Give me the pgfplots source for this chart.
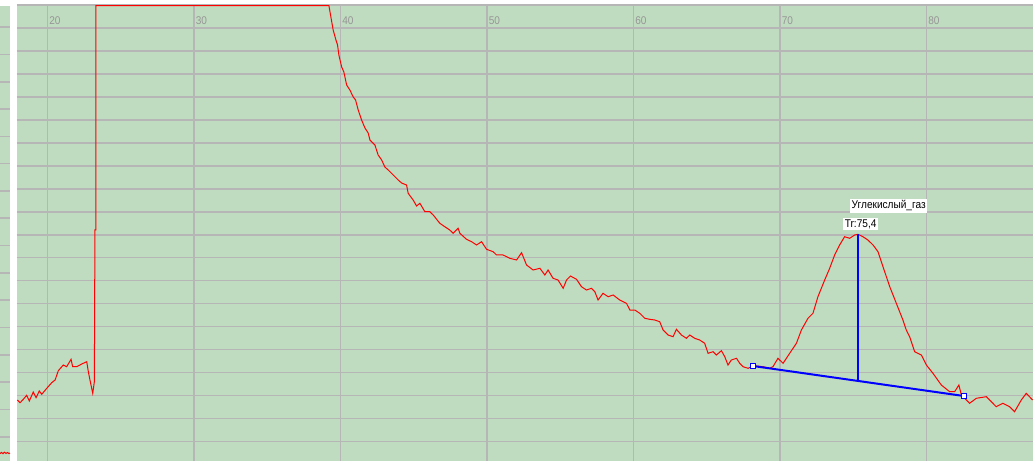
\documentclass[border=0pt]{standalone}
\usepackage{pgfplots}
\pgfplotsset{compat=1.18}
\usepackage{fontspec}
\setmainfont{Liberation Sans}
\newfontfamily\labelfont[FakeStretch=0.9]{Liberation Sans}
\definecolor{bg}{RGB}{192,220,192}
\definecolor{gridc}{RGB}{182,182,182}
\definecolor{tickc}{RGB}{150,150,150}
\begin{document}
\begin{tikzpicture}
\fill[white] (0pt,0pt) rectangle (516.5pt,230.5pt);
% left strip
\begin{axis}[at={(0pt,0pt)}, anchor=south west, scale only axis,
  width=5pt, height=227.5pt, xmin=0, xmax=10, ymin=0, ymax=455,
  axis background/.style={fill=bg}, axis line style={draw=none},
  xtick=\empty, ytick={24.3,51.6,...,440}, yticklabels={},
  ymajorgrids, major grid style={gridc, line width=0.8pt}, major tick length=0pt]
\addplot[red, line width=0.5pt] coordinates {(0,7.5) (1.5,8.6) (3,7.3) (4.5,8.8) (6,7.6) (7.5,8.5) (9,7.4) (10,8)};
\end{axis}
% main chromatogram
\begin{axis}[at={(8.5pt,0pt)}, anchor=south west, scale only axis,
  width=508pt, height=227.875pt,
  xmin=17.93, xmax=87.28, ymin=0, ymax=455.75,
  axis background/.style={fill=bg}, axis line style={draw=none},
  xtick={20,30,...,80}, ytick={19.7,42.65,...,456}, yticklabels={},
  xmajorgrids, ymajorgrids, major grid style={gridc, line width=0.8pt},
  major tick length=0pt, xticklabel pos=right,
  /pgf/number format/assume math mode=true,
  xticklabel style={anchor=north west, inner sep=0pt, xshift=0.8pt, yshift=-5.4pt,
    font=\labelfont\fontsize{5.6}{6}\selectfont, text=tickc},
  clip=true]
\addplot[red, line width=0.5pt] coordinates {
(17.95,61) (18.14,58.3) (18.36,61.7) (18.59,65.7) (18.77,60) (19.04,69) (19.23,63.3)
(19.45,70) (19.62,66.7) (19.96,72.7) (20.30,78.3) (20.53,81) (20.75,90.3) (21.09,96)
(21.32,94.3) (21.62,101.7) (21.73,94.3) (22.01,94.3) (22.35,97) (22.69,99.3) (22.80,89.3)
(22.91,81) (23.10,67.7) (23.21,79.3) (23.25,231) (23.32,231) (23.32,455.4)
(39.22,455.4)
(39.51,431) (39.70,421) (39.81,416) (39.90,406) (40.09,394) (40.24,389) (40.43,376)
(40.65,371) (40.88,364) (41.04,361) (41.22,351) (41.45,341) (41.68,333) (41.90,328)
(42.02,321) (42.36,316) (42.58,306) (42.82,301) (43.04,294) (43.27,291) (43.61,286)
(43.95,281) (44.18,278) (44.52,276) (44.63,267.7) (44.97,261) (45.20,255) (45.43,257.7)
(45.77,249.3) (46.11,249.3) (46.34,246) (46.79,237.7) (47.13,234.3) (47.47,231) (47.70,227.7)
(48.04,232.7) (48.16,227.7) (48.61,221.7) (48.96,219.3) (49.30,216) (49.64,219.3) (49.98,211.7)
(50.43,209.3) (50.66,206) (51.11,206) (51.57,202.7) (52.03,201) (52.37,208.3) (52.71,196)
(53.16,191) (53.62,192.7) (53.96,186) (54.18,191) (54.52,182.7) (54.86,181) (55.21,172.7)
(55.44,181) (55.71,185) (56.12,181.7) (56.46,174.3) (56.80,171) (57.14,172.7) (57.37,169.3)
(57.59,161) (57.93,167.7) (58.28,164.3) (58.62,166) (59.07,161) (59.53,157.7) (59.76,151)
(60.10,151) (60.44,147.7) (60.78,142.7) (61.12,141.7) (61.46,141) (61.80,139.3) (62.03,131)
(62.37,126) (62.71,124.3) (62.94,131.7) (63.28,126) (63.62,122.7) (63.85,126) (64.19,122.7)
(64.53,121) (64.87,117.7) (65.10,107.7) (65.44,109.3) (65.67,106) (66.01,110.3) (66.24,104.3)
(66.46,96) (66.69,101) (67.04,102.7) (67.26,97.7) (67.49,94.3) (67.83,92.7) (68.06,94.3)
(68.40,95) (68.85,94.3) (69.31,92.7) (69.53,94.3) (69.87,102.7) (70.22,97.7) (70.67,107.7)
(71.13,117.7) (71.47,131) (71.92,142.7) (72.26,147.7) (72.60,164.3) (73.06,181) (73.40,192.7)
(73.74,206) (74.08,216) (74.42,224.3) (74.77,222.7) (75.11,226) (75.33,226.7) (75.67,224.3)
(76.01,221) (76.36,216) (76.70,209.3) (77.04,194.3) (77.50,174.3) (77.95,157.7) (78.40,141)
(78.63,131) (78.86,124.3) (79.20,109.3) (79.66,106) (80.00,96) (80.45,87.7) (81.02,76)
(81.59,69.3) (81.93,69.3) (82.22,76) (82.39,66) (82.73,61) (82.95,57.7) (83.41,62.7)
(84.09,64.3) (84.77,54.3) (85.22,57.7) (85.68,54.3) (86.02,49.3) (86.48,61) (86.82,67.7)
(87.25,61)
};
% baseline with end markers
\addplot[blue, line width=1pt, mark=square*, mark size=1.2pt,
  mark options={fill=white, draw=blue, line width=0.6pt}] coordinates {(68.17,95) (82.56,65)};
% retention time line
\addplot[blue, line width=0.65pt] coordinates {(75.33,226.7) (75.33,80.1)};
\node[fill=white, anchor=west, inner xsep=0.8pt, inner ysep=0.7pt, text height=4.3pt, text depth=1.3pt,
  font=\labelfont\fontsize{5.6}{6}\selectfont] at (axis cs:74.77,255) {Углекислый\_газ};
\node[fill=white, anchor=west, inner xsep=0.8pt, inner ysep=0.5pt, text height=4.3pt, text depth=0.3pt,
  font=\labelfont\fontsize{5.6}{6}\selectfont] at (axis cs:74.30,237) {Tr:75,4};
\end{axis}
\pgfresetboundingbox
\useasboundingbox (0pt,0pt) rectangle (516.5pt,230.5pt);
\end{tikzpicture}
\end{document}
